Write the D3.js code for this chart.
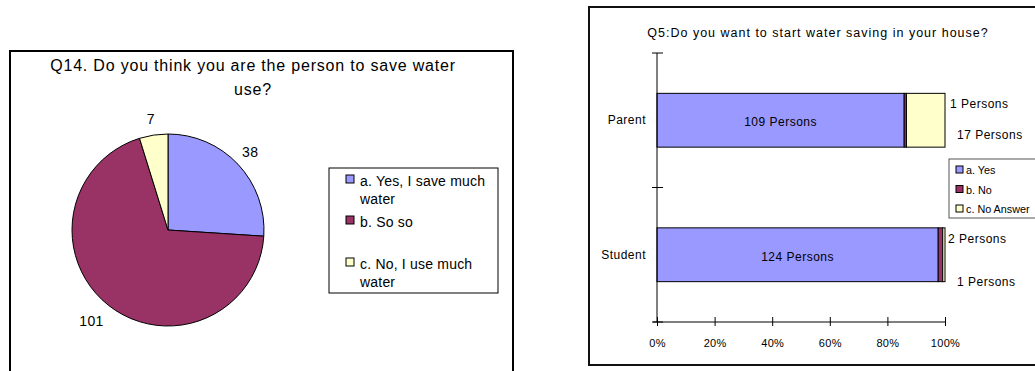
<!DOCTYPE html>
<html>
<head>
<meta charset="utf-8">
<script src="https://cdn.jsdelivr.net/npm/d3@7"></script>
<style>
  body { margin: 0; background: #fff; }
  svg { display: block; font-family: "Liberation Sans", Arial, sans-serif; }
</style>
</head>
<body>
<svg id="chart" width="1035" height="371"></svg>
<script>
// Q14 pie data
const pieLabels = ["a. Yes, I save much water", "b. So so", "c. No, I use much water"]
const pieValues = [38, 101, 7]
const pieColors = ["#9999ff", "#993366", "#ffffcc"]

// Q5 stacked bar data
const barCategories = ["Parent", "Student"]
const barSeries = ["a. Yes", "b. No", "c. No Answer"]
const yesValues = [109, 124]
const noValues = [1, 2]
const noAnswerValues = [17, 1]
const barColors = ["#9999ff", "#993366", "#ffffcc"]
const xTicks = [0, 0.2, 0.4, 0.6, 0.8, 1]

const svg = d3.select("#chart")

// ---------- left: pie chart ----------
const left = svg.append("g")
left.append("rect").attr("x", 10).attr("y", 51).attr("width", 503).attr("height", 340)
  .attr("fill", "#fff").attr("stroke", "#000").attr("stroke-width", 2)

left.append("text").attr("x", 253).attr("y", 71).attr("text-anchor", "middle")
  .attr("font-size", 16).attr("letter-spacing", 0.8)
  .text("Q14. Do you think you are the person to save water")
left.append("text").attr("x", 253).attr("y", 95).attr("text-anchor", "middle")
  .attr("font-size", 16).attr("letter-spacing", 0.8).text("use?")

const cx = 168, cy = 230, r = 96
const pie = d3.pie().sort(null)(pieValues)
const arc = d3.arc().innerRadius(0).outerRadius(r)
const pieG = left.append("g").attr("transform", `translate(${cx},${cy})`)
pieG.selectAll("path").data(pie).join("path")
  .attr("d", arc)
  .attr("fill", (d, i) => pieColors[i])
  .attr("stroke", "#000").attr("stroke-width", 1)

// value labels outside the slices
const labelArc = d3.arc().innerRadius(r + 18).outerRadius(r + 18)
const labelNudge = [[-1, 0], [-6, 1], [0, 2]]
pieG.selectAll("text.val").data(pie).join("text")
  .attr("class", "val")
  .attr("x", (d, i) => labelArc.centroid(d)[0] + labelNudge[i][0])
  .attr("y", (d, i) => labelArc.centroid(d)[1] + labelNudge[i][1])
  .attr("text-anchor", "middle").attr("dominant-baseline", "central")
  .attr("font-size", 14).attr("letter-spacing", 0.3).text(d => d.data)

// legend
const lg = left.append("g")
lg.append("rect").attr("x", 329).attr("y", 168).attr("width", 169).attr("height", 125)
  .attr("fill", "#fff").attr("stroke", "#000").attr("stroke-width", 1)
const legendRows = [
  {lines: ["a. Yes, I save much", "water"], y: 175},
  {lines: ["b. So so"], y: 216},
  {lines: ["c. No, I use much", "water"], y: 258}
]
legendRows.forEach((row, i) => {
  lg.append("rect").attr("x", 346).attr("y", row.y).attr("width", 8).attr("height", 8)
    .attr("fill", pieColors[i]).attr("stroke", "#000").attr("stroke-width", 1)
  row.lines.forEach((t, j) => {
    lg.append("text").attr("x", 360).attr("y", row.y + 11 + j * 18)
      .attr("font-size", 14).attr("letter-spacing", 0.2).text(t)
  })
})

// ---------- right: stacked bar chart ----------
const right = svg.append("g")
right.append("rect").attr("x", 589).attr("y", 7).attr("width", 460).attr("height", 358)
  .attr("fill", "#fff").attr("stroke", "#111").attr("stroke-width", 2)

right.append("text").attr("x", 818).attr("y", 37).attr("text-anchor", "middle")
  .attr("font-size", 12.5).attr("letter-spacing", 1)
  .text("Q5:Do you want to start water saving in your house?")

const x = d3.scaleLinear().domain([0, 1]).range([657, 945])
const y = d3.scaleBand().domain(barCategories).range([53, 322]).paddingInner(0.6).paddingOuter(0.3)

const rows = barCategories.map((c, i) => {
  const vals = [yesValues[i], noValues[i], noAnswerValues[i]]
  const total = d3.sum(vals)
  let acc = 0
  return vals.map((v, k) => {
    const seg = {cat: c, k: k, v: v, x0: acc / total, x1: (acc + v) / total}
    acc += v
    return seg
  })
}).flat()

right.append("g").selectAll("rect").data(rows).join("rect")
  .attr("x", d => x(d.x0))
  .attr("width", d => x(d.x1) - x(d.x0))
  .attr("y", d => y(d.cat))
  .attr("height", y.bandwidth())
  .attr("fill", d => barColors[d.k])
  .attr("stroke", "#000").attr("stroke-width", 1)

// axes
const xAxis = d3.axisBottom(x).tickValues(xTicks).tickFormat(d3.format(".0%"))
  .tickSize(5).tickPadding(12)
const xg = right.append("g").attr("transform", "translate(0,322)").call(xAxis)
xg.select(".domain").attr("d", "M653,0H945").attr("stroke", "#000")
xg.selectAll(".tick line").attr("y1", -5).attr("y2", 4).attr("stroke", "#000")
xg.selectAll(".tick text").attr("font-size", 11).attr("letter-spacing", 0.3)
  .attr("font-family", "Liberation Sans, Arial, sans-serif").attr("fill", "#000")

// category axis: ticks at band boundaries
const yEdges = [53, (y("Parent") + y.bandwidth() + y("Student")) / 2, 322]
right.append("line").attr("x1", 657).attr("x2", 657).attr("y1", 53).attr("y2", 322).attr("stroke", "#000")
right.selectAll("line.ytick").data(yEdges).join("line").attr("class", "ytick")
  .attr("x1", 652).attr("x2", 663).attr("y1", d => d).attr("y2", d => d).attr("stroke", "#000")
right.selectAll("text.cat").data(barCategories).join("text").attr("class", "cat")
  .attr("x", 646).attr("y", d => y(d) + y.bandwidth() / 2)
  .attr("text-anchor", "end").attr("dominant-baseline", "central")
  .attr("font-size", 12).attr("letter-spacing", 0.5).text(d => d)

// in-bar labels for "Yes"
right.selectAll("text.yes").data(rows.filter(d => d.k === 0)).join("text").attr("class", "yes")
  .attr("x", d => (x(d.x0) + x(d.x1)) / 2).attr("y", d => y(d.cat) + y.bandwidth() / 2 + 2)
  .attr("text-anchor", "middle").attr("dominant-baseline", "central")
  .attr("font-size", 12).attr("letter-spacing", 0.5).text(d => `${d.v} Persons`)

// outside labels for "No" and "No Answer"
const outLabels = rows.filter(d => d.k > 0)
right.selectAll("text.out").data(outLabels).join("text").attr("class", "out")
  .attr("x", d => d.k === 1 ? x(1) + (d.cat === "Parent" ? 5 : 3) : x(1) + 12)
  .attr("y", d => d.k === 1 ? y(d.cat) + 11 : y(d.cat) + (d.cat === "Parent" ? 42 : 54))
  .attr("dominant-baseline", "central")
  .attr("font-size", 12).attr("letter-spacing", 0.5).text(d => `${d.v} Persons`)

// legend
const rl = right.append("g")
rl.append("rect").attr("x", 949).attr("y", 159).attr("width", 100).attr("height", 59)
  .attr("fill", "#fff").attr("stroke", "#555").attr("stroke-width", 1)
barSeries.forEach((s, i) => {
  const yy = 170 + i * 19.5
  rl.append("rect").attr("x", 956).attr("y", yy - 4).attr("width", 7).attr("height", 7)
    .attr("fill", barColors[i]).attr("stroke", "#000").attr("stroke-width", 1)
  rl.append("text").attr("x", 966).attr("y", yy).attr("dominant-baseline", "central")
    .attr("font-size", 10.8).text(s)
})
</script>
</body>
</html>
